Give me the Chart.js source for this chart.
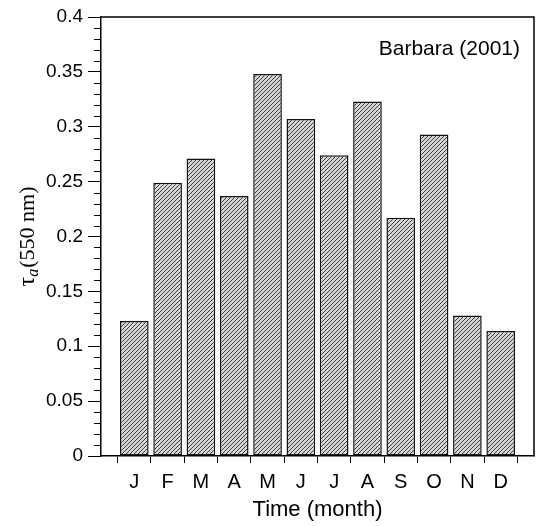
<!DOCTYPE html>
<html>
<head>
<meta charset="utf-8">
<script src="https://cdn.jsdelivr.net/npm/chart.js@4.4.1/dist/chart.umd.min.js"></script>
<style>
  html, body { margin: 0; padding: 0; background: #fff; }
  #wrap { width: 536px; height: 526px; }
</style>
</head>
<body>
<div id="wrap"><canvas id="barChart" width="536" height="526"></canvas></div>
<script>
// monthly aerosol optical depth, Barbara 2001
var months = ["J", "F", "M", "A", "M", "J", "J", "A", "S", "O", "N", "D"];
var tau = [0.123, 0.249, 0.271, 0.237, 0.348, 0.307, 0.274, 0.323, 0.217, 0.293, 0.128, 0.114];
var yTicks = [0, 0.05, 0.1, 0.15, 0.2, 0.25, 0.3, 0.35, 0.4];

// hatched fill like the printed figure
function makeHatch() {
    var c = document.createElement("canvas");
    c.width = 4; c.height = 4;
    var g = c.getContext("2d");
    g.fillStyle = "#d6d6d6";
    g.fillRect(0, 0, 4, 4);
    g.strokeStyle = "#3c3c3c";
    g.lineWidth = 1;
    g.beginPath();
    g.moveTo(-1, 5); g.lineTo(5, -1);
    g.moveTo(-1, 1); g.lineTo(1, -1);
    g.moveTo(3, 5); g.lineTo(5, 3);
    g.stroke();
    return g.createPattern(c, "repeat");
}

var extras = {
    id: "extras",
    afterDraw: function (chart) {
        var ctx = chart.ctx;
        var a = chart.chartArea;
        var y = chart.scales.y;
        ctx.save();
        ctx.strokeStyle = "#000";
        ctx.lineWidth = 1.5;
        // top and right frame
        ctx.beginPath();
        ctx.moveTo(a.left, a.top);
        ctx.lineTo(a.right, a.top);
        ctx.lineTo(a.right, a.bottom);
        ctx.stroke();
        // minor ticks on the y axis
        ctx.lineWidth = 1;
        ctx.beginPath();
        for (var i = 1; i < 40; i++) {
            if (i % 5 === 0) continue;
            var py = Math.round(y.getPixelForValue(i / 100)) + 0.5;
            ctx.moveTo(a.left - 7, py);
            ctx.lineTo(a.left, py);
        }
        ctx.stroke();
        // label inside the plot
        ctx.fillStyle = "#000";
        ctx.font = "21px 'Liberation Sans', Arial, sans-serif";
        ctx.textAlign = "right";
        ctx.textBaseline = "alphabetic";
        ctx.fillText("Barbara (2001)", 520, 55);
        // y title with subscript
        ctx.translate(34, (a.top + a.bottom) / 2);
        ctx.rotate(-Math.PI / 2);
        var f0 = "24px 'Liberation Serif', 'Times New Roman', serif";
        var f1 = "22px 'Liberation Serif', 'Times New Roman', serif";
        var f2 = "italic 16px 'Liberation Serif', 'Times New Roman', serif";
        ctx.font = f0;
        var w1 = ctx.measureText("\u03c4").width;
        ctx.font = f1;
        var w3 = ctx.measureText("(550 nm)").width;
        ctx.font = f2;
        var w2 = ctx.measureText("a").width + 1;
        var x0 = -(w1 + w2 + w3) / 2;
        ctx.textAlign = "left";
        ctx.font = f0;
        ctx.fillText("\u03c4", x0, 0);
        ctx.font = f2;
        ctx.fillText("a", x0 + w1, 4);
        ctx.font = f1;
        ctx.fillText("(550 nm)", x0 + w1 + w2, 0);
        ctx.restore();
    }
};

var ctx = document.getElementById("barChart").getContext("2d");
var barChart = new Chart(ctx, {
    type: "bar",
    data: {
        datasets: [{
            label: "tau",
            data: tau.map(function (v, i) { return { x: i + 1, y: v }; }),
            backgroundColor: makeHatch(),
            borderColor: "#111",
            borderWidth: 1.5,
            borderSkipped: false,
            categoryPercentage: 1,
            barPercentage: 0.86
        }]
    },
    options: {
        responsive: false,
        animation: false,
        devicePixelRatio: 1,
        layout: { padding: { top: 17, right: 2, left: 0, bottom: 0 } },
        plugins: { legend: { display: false }, tooltip: { enabled: false } },
        scales: {
            x: {
                type: "linear",
                offset: false,
                min: 0,
                max: 13,
                afterFit: function (s) {
                    s.height = 70;
                    s.paddingLeft = 0;
                    s.paddingRight = 0;
                },
                afterBuildTicks: function (s) {
                    s.ticks = [];
                    for (var i = 0; i <= 13; i++) s.ticks.push({ value: i });
                },
                ticks: {
                    autoSkip: false,
                    maxRotation: 0,
                    padding: 7,
                    color: "#000",
                    font: { family: "'Liberation Sans', Arial, sans-serif", size: 20 },
                    callback: function (v) { return months[v - 1] || ""; }
                },
                grid: { drawOnChartArea: false, tickLength: 7, color: "#000", tickColor: "#000" },
                border: { color: "#000", width: 1.5 },
                title: {
                    display: true,
                    text: "Time (month)",
                    color: "#000",
                    font: { family: "'Liberation Sans', Arial, sans-serif", size: 22 },
                    padding: { top: 0, bottom: 3 }
                }
            },
            y: {
                min: 0,
                max: 0.4,
                afterFit: function (s) { s.width = 101; },
                afterBuildTicks: function (s) {
                    s.ticks = yTicks.map(function (v) { return { value: v }; });
                },
                ticks: {
                    padding: 5,
                    color: "#000",
                    font: { family: "'Liberation Sans', Arial, sans-serif", size: 19 },
                    callback: function (v) { return String(+v.toFixed(2)); }
                },
                grid: { drawOnChartArea: false, tickLength: 13, color: "#000", tickColor: "#000" },
                border: { color: "#000", width: 1.5 }
            }
        }
    },
    plugins: [extras]
});
</script>
</body>
</html>
